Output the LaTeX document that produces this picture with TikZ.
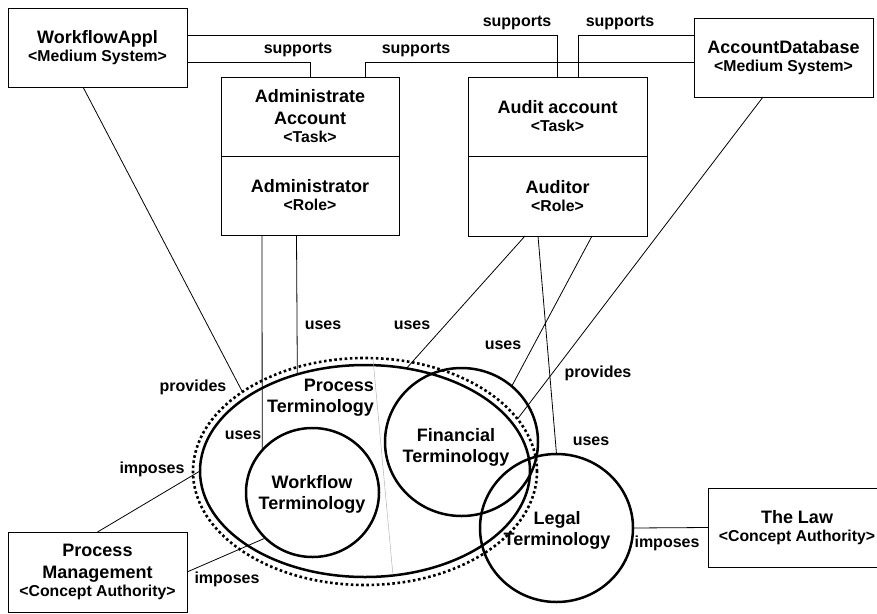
\documentclass[tikz,border=0pt]{standalone}
\usepackage{fontspec}
\setmainfont{Liberation Sans}
\usetikzlibrary{shapes.geometric}

% smaller second line inside the boxes
\newcommand\subtag[1]{{\fontsize{15.8}{18}\selectfont #1}}

\tikzset{
  box/.style={draw, line width=1pt, minimum width=179pt, minimum height=79pt,
    inner sep=0pt, outer sep=0pt, align=center,
    font=\bfseries\fontsize{18}{22}\selectfont},
  termarea/.style={draw, ellipse, line width=2.5pt, inner sep=0pt, outer sep=0pt},
  termtext/.style={align=center, inner sep=0pt, font=\bfseries\fontsize{18}{21}\selectfont},
  lbl/.style={inner sep=0pt, font=\bfseries\fontsize{16}{19}\selectfont},
  link/.style={line width=0.8pt},
}

\begin{document}
\begin{tikzpicture}[x=1pt,y=-1pt]
\useasboundingbox (0,0) rectangle (877,613);
\clip (0,0) rectangle (877,613);

% ---------- systems, tasks, roles, authorities ----------
\node[box] (wf) at (97.5,47.5) {WorkflowAppl\\[-4pt]\subtag{<Medium System>}};
\node[box] (adb) at (783.5,57.5) {AccountDatabase\\[-4pt]\subtag{<Medium System>}};
\node[box, minimum width=178pt] (admtask) at (310,116.5) {Administrate\\Account\\[-4pt]\subtag{<Task>}};
\node[box, minimum width=178pt] (admrole) at (310,195.5) {Administrator\\[-4pt]\subtag{<Role>}};
\node[box] (audtask) at (557.5,116.5) {Audit account\\[-4pt]\subtag{<Task>}};
\node[box, minimum height=80pt] (audrole) at (557.5,196) {Auditor\\[-4pt]\subtag{<Role>}};
\node[box, minimum height=80pt] (pm) at (97.5,572) {Process\\Management\\[-4pt]\subtag{<Concept Authority>}};
\node[box, minimum width=178pt] (law) at (797,527.5) {The Law\\[-4pt]\subtag{<Concept Authority>}};

% ---------- terminologies ----------
\node[termarea, minimum width=344pt, minimum height=227pt,
      line width=2.6pt, dash pattern=on 2.6pt off 2.6pt] (procdots) at (365,471.5) {};
\node[termarea, minimum width=330pt, minimum height=212pt] (proc) at (365,471) {};
\node[termarea, minimum width=133pt, minimum height=129pt] (wfterm) at (312.5,492.5) {};
\node[termarea, minimum width=153pt, minimum height=148pt] (fin) at (461.5,442) {};
\node[termarea, minimum width=153pt, minimum height=148pt] (legal) at (556.5,528) {};

\node[termtext, align=right, anchor=east] (proctxt) at (374,398) {Process\\Terminology};
\node[termtext] (wftxt) at (312,494) {Workflow\\Terminology};
\node[termtext] (fintxt) at (456,447) {Financial\\Terminology};
\node[termtext] (legaltxt) at (557,530) {Legal\\Terminology};

% faint divider inside the process terminology
\draw[gray!70, line width=0.5pt, dash pattern=on 1.5pt off 0.5pt] (procdots.86.5) -- (proc.-75.6);

% ---------- supports ----------
\draw[link] ([yshift=12.5pt]wf.east) -- (audtask.north |- 0,35) -- (audtask.north);
\draw[link] ([yshift=-14.5pt]wf.east) -- (admtask.north |- 0,62) -- (admtask.north);
\draw[link] ([yshift=22.5pt]adb.west) -- (578,35) -- ([xshift=20.5pt]audtask.north);
\draw[link] ([yshift=-4.5pt]adb.west) -- (365,62) -- ([xshift=55pt]admtask.north);

\node[lbl] (s1) at (298,50) {supports};
\node[lbl] (s2) at (416,50) {supports};
\node[lbl] (s3) at (517,23) {supports};
\node[lbl] (s4) at (620,23) {supports};

% ---------- provides ----------
\draw[link] ([xshift=-14.5pt]wf.south) -- (procdots.147.6);
\draw[link] ([xshift=-20.5pt]adb.south) -- (procdots.19.7);
\node[lbl] (p1) at (193,387) {provides};
\node[lbl] (p2) at (598,373) {provides};

% ---------- uses ----------
\draw[link] ([xshift=-48pt]admrole.south) -- (wfterm.140.3);
\draw[link] ([xshift=-13.5pt]admrole.south) -- (proc.125.1);
\draw[link] ([xshift=-32.5pt]audrole.south) -- (proc.68.7);
\draw[link] ([xshift=-19.5pt]audrole.south) -- (legal.north);
\draw[link] ([xshift=34.5pt]audrole.south) -- (fin.48.9);
\node[lbl] (u1) at (243,435) {uses};
\node[lbl] (u2) at (323,325) {uses};
\node[lbl] (u3) at (412,325) {uses};
\node[lbl] (u4) at (503,345) {uses};
\node[lbl] (u5) at (591,441) {uses};

% ---------- imposes ----------
\draw[link] (pm.north) -- (proc.west);
\draw[link] (pm.east) -- (wfterm.224.4);
\draw[link] (legal.east) -- (law.west);
\node[lbl] (i1) at (152,469) {imposes};
\node[lbl] (i2) at (227,579) {imposes};
\node[lbl] (i3) at (667,543) {imposes};
\end{tikzpicture}
\end{document}
